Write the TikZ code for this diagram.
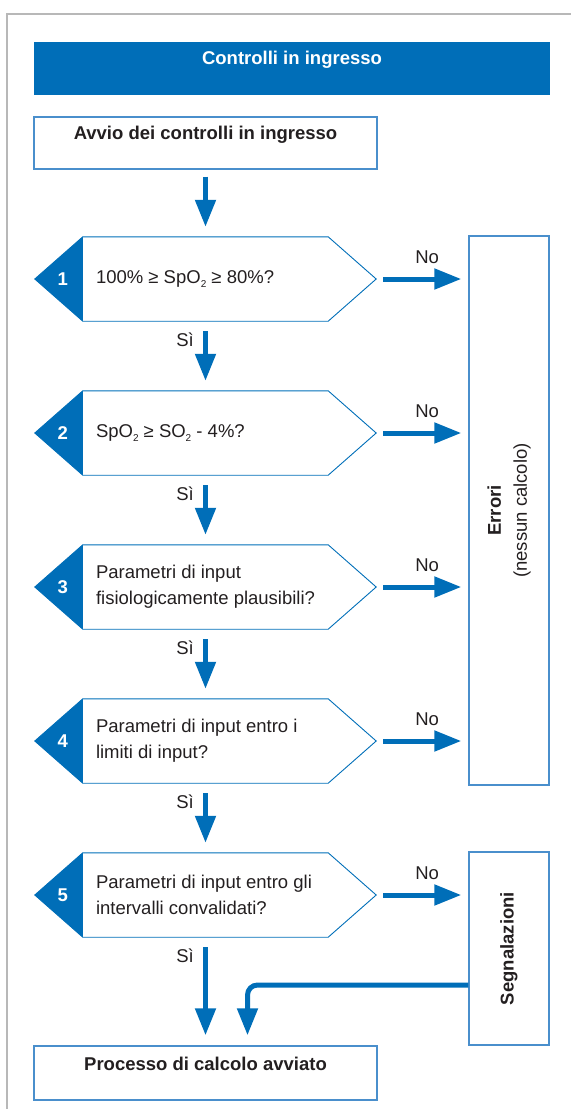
\documentclass[tikz,border=0pt]{standalone}
\usepackage{fontspec}
\setmainfont{Liberation Sans}
\usetikzlibrary{arrows.meta}
\definecolor{rblue}{HTML}{006EB8}
\definecolor{lblue}{HTML}{4A8FCC}
\definecolor{txt}{HTML}{231F20}
\definecolor{framegray}{HTML}{B8B8B8}
\newcommand{\lowsub}[1]{\raisebox{-4pt}{\fontsize{10}{10}\selectfont #1}}
\newcommand{\mkdecision}[4]{%
  \node[decnode] (#1) at (205.5,#2) {};
  \fill[rblue] (#1.west) -- ([xshift=48pt]#1.north west) -- ([xshift=48pt]#1.south west) -- cycle;
  \draw[decline] (#1.west) -- ([xshift=48pt]#1.north west) -- ([xshift=-48pt]#1.north east)
     -- (#1.east) -- ([xshift=-48pt]#1.south east) -- ([xshift=48pt]#1.south west) -- cycle;
  \node[numtext] (#1n) at ([xshift=28pt]#1.west) {#3};
  \node[dectext] (#1t) at ([xshift=61pt]#1.west) {#4};
}
\begin{document}
\begin{tikzpicture}[x=1pt,y=-1pt,
  every node/.style={font=\fontsize{18.5}{26}\selectfont, text=txt},
  boxnode/.style={draw=lblue, line width=1.4pt, inner sep=0pt},
  decnode/.style={draw=none, minimum width=341pt, minimum height=84pt, inner sep=0pt},
  decline/.style={draw=rblue, line width=0.9pt, line join=miter},
  numtext/.style={text=white, font=\fontsize{18.5}{26}\selectfont\bfseries},
  dectext/.style={anchor=west, align=left, inner sep=0pt},
  boldtext/.style={font=\fontsize{18.5}{26}\selectfont\bfseries},
  arr/.style={draw=rblue, line width=5pt, -{Triangle[length=27pt,width=20pt]}},
  lbl/.style={inner sep=0pt}
]
\useasboundingbox (0,0) rectangle (571,1109);
\draw[framegray, line width=1.5pt] (7,1109) -- (7,14) -- (571,14);

% header
\node[fill=rblue, minimum width=516pt, minimum height=53pt, inner sep=0pt] (hdr) at (292,68.5) {};
\node[boldtext, text=white] (hdrt) at ([yshift=-18pt]hdr.north) {Controlli in ingresso};

% start box
\node[boxnode, minimum width=343pt, minimum height=52pt] (start) at (205.5,143) {};
\node[boldtext] (startt) at ([yshift=-18pt]start.north) {Avvio dei controlli in ingresso};

% decisions
\mkdecision{d1}{279}{1}{100\% ≥ SpO\lowsub{2} ≥ 80\%?}
\mkdecision{d2}{433}{2}{SpO\lowsub{2} ≥ SO\lowsub{2} - 4\%?}
\mkdecision{d3}{587}{3}{Parametri di input\\fisiologicamente plausibili?}
\mkdecision{d4}{741}{4}{Parametri di input entro i\\limiti di input?}
\mkdecision{d5}{895}{5}{Parametri di input entro gli\\intervalli convalidati?}

% right boxes
\node[boxnode, minimum width=80pt, minimum height=549pt] (err) at (509,510.5) {};
\node[rotate=90, align=center] (errt) at (err) {\textbf{Errori}\\(nessun calcolo)};
\node[boxnode, minimum width=80pt, minimum height=193pt] (seg) at (509,948.5) {};
\node[rotate=90, boldtext] (segt) at (seg) {Segnalazioni};

% process box
\node[boxnode, minimum width=343pt, minimum height=54pt] (proc) at (205.5,1073) {};
\node[boldtext] (proct) at ([yshift=-19pt]proc.north) {Processo di calcolo avviato};

% vertical arrows
\draw[arr, shorten <=7pt, shorten >=10pt] (start.south) -- (d1.north);
\draw[arr, shorten <=10pt, shorten >=10pt] (d1.south) -- (d2.north);
\draw[arr, shorten <=10pt, shorten >=10pt] (d2.south) -- (d3.north);
\draw[arr, shorten <=10pt, shorten >=10pt] (d3.south) -- (d4.north);
\draw[arr, shorten <=10pt, shorten >=10pt] (d4.south) -- (d5.north);
\draw[arr, shorten <=10pt, shorten >=10pt] (d5.south) -- (proc.north);

% Si labels
\foreach \d in {d1,d2,d3,d4,d5}{
  \node[lbl] at ([xshift=-20.5pt,yshift=-19pt]\d.south) {Sì};
}

% No arrows
\draw[arr, shorten <=7pt, shorten >=7pt] (d1.east) -- (d1.east -| err.west);
\draw[arr, shorten <=7pt, shorten >=7pt] (d2.east) -- (d2.east -| err.west);
\draw[arr, shorten <=7pt, shorten >=7pt] (d3.east) -- (d3.east -| err.west);
\draw[arr, shorten <=7pt, shorten >=7pt] (d4.east) -- (d4.east -| err.west);
\draw[arr, shorten <=7pt, shorten >=7pt] (d5.east) -- (d5.east -| seg.west);
\foreach \d in {d1,d2,d3,d4,d5}{
  \node[lbl] at ([xshift=51pt,yshift=22pt]\d.east) {No};
}

% return arrow from Segnalazioni
\draw[arr, rounded corners=10pt, shorten >=10pt] ([yshift=-36.5pt]seg.west) -| ([xshift=42pt]proc.north);
\end{tikzpicture}
\end{document}
